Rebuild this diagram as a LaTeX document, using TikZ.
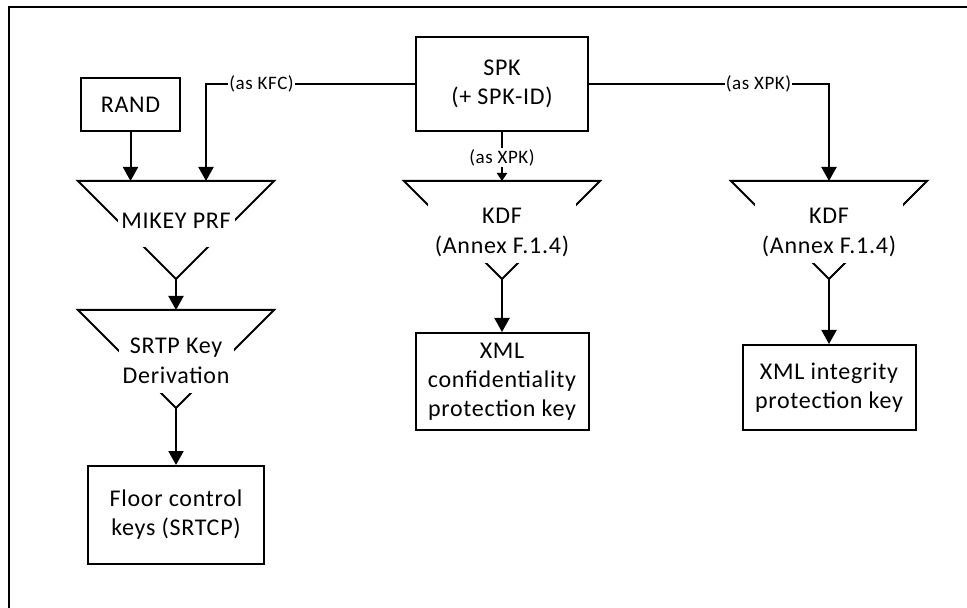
\documentclass[tikz,border=0pt]{standalone}
\usepackage{fontspec}
\setmainfont{Carlito}[LetterSpace=3]
\usetikzlibrary{arrows.meta}
\tikzset{
  box/.style={draw, line width=1pt, align=center, inner sep=0pt,
    font=\fontsize{12}{14.5}\selectfont},
  tritext/.style={fill=white, align=center, inner sep=0pt,
    font=\fontsize{12}{15}\selectfont},
  funnel/.style={draw, line width=1pt},
  lbl/.style={fill=white, inner sep=0.5pt, font=\fontsize{9.5}{11}\selectfont},
  arr/.style={line width=1pt, -{Triangle[length=7pt,width=7.5pt]}},
  smallarr/.style={line width=1pt, -{Triangle[length=4pt,width=5pt]}}
}
\begin{document}
\begin{tikzpicture}[x=0.5pt,y=-0.5pt]
\useasboundingbox (0,0) rectangle (967,608);
% outer frame (only top and left visible)
\draw[line width=1pt] (9,608) -- (9,7) -- (967,7);

% boxes
\node[box, minimum width=49.5pt, minimum height=26.5pt] (rand) at (130.5,104.5) {RAND};
\node[box, minimum width=86pt, minimum height=47pt] (spk) at (502,84) {SPK\\(+ SPK-ID)};
\node[box, minimum width=88pt, minimum height=49pt] (floor) at (176,515) {Floor control\\keys (SRTCP)};
\node[box, minimum width=86.5pt, minimum height=48.5pt] (xmlc) at (502,381.5) {XML\\confidentiality\\protection key};
\node[box, minimum width=86.5pt, minimum height=42.5pt] (xmli) at (829,387.5) {XML integrity\\protection key};

% funnels (inverted triangles)
\coordinate (t1top) at (176,181); \coordinate (t1apex) at (176,279);
\coordinate (t2top) at (176,310); \coordinate (t2apex) at (176,408);
\coordinate (t3top) at (502,181); \coordinate (t3apex) at (502,279);
\coordinate (t4top) at (829,181); \coordinate (t4apex) at (829,279);
\draw[funnel] ([xshift=-49pt]t1top) -- ([xshift=49pt]t1top) -- (t1apex) -- cycle;
\draw[funnel] ([xshift=-49pt]t2top) -- ([xshift=49pt]t2top) -- (t2apex) -- cycle;
\draw[funnel] ([xshift=-49pt]t3top) -- ([xshift=49pt]t3top) -- (t3apex) -- cycle;
\draw[funnel] ([xshift=-49pt]t4top) -- ([xshift=49pt]t4top) -- (t4apex) -- cycle;
\node[tritext, minimum width=58.5pt, minimum height=26pt] (prf) at (176,221) {MIKEY PRF};
\node[tritext, minimum width=57.5pt, minimum height=32pt] (srtp) at (176,361) {SRTP Key\\Derivation};
\node[tritext, minimum width=74pt, minimum height=31pt] (kdf1) at (502,232) {KDF\\(Annex F.1.4)};
\node[tritext, minimum width=74pt, minimum height=31pt] (kdf2) at (829,232) {KDF\\(Annex F.1.4)};

% connectors
\coordinate (kfcend) at (206,181);
\draw[arr] (rand.south) -- (rand.south |- t1top);
\draw[arr] (spk.west) -| node[lbl, pos=0.367] {(as KFC)} (kfcend);
\draw[arr] (spk.east) -| node[lbl, pos=0.353] {(as XPK)} (t4top);
\draw[smallarr] (spk.south) -- node[lbl, pos=0.52] {(as XPK)} (t3top);
\draw[arr] (t1apex) -- (t2top);
\draw[arr] (t2apex) -- (floor.north);
\draw[arr] (t3apex) -- (xmlc.north);
\draw[arr] (t4apex) -- (xmli.north);
\end{tikzpicture}
\end{document}
